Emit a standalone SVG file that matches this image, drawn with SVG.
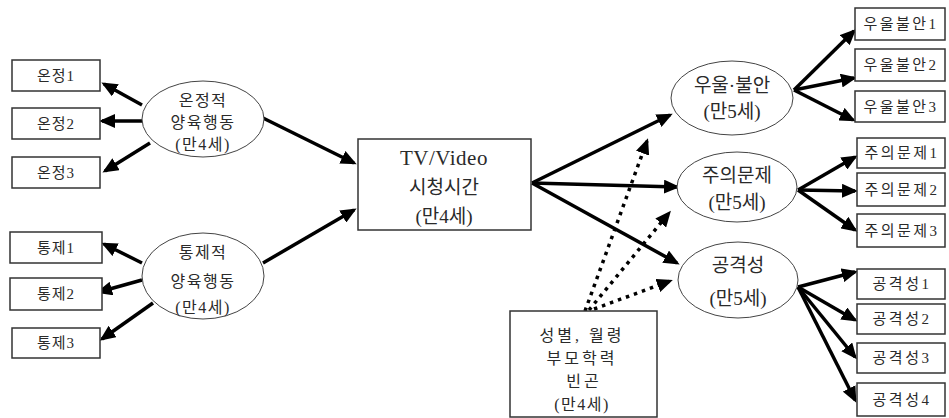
<svg xmlns="http://www.w3.org/2000/svg" width="949" height="418" viewBox="0 0 949 418">
<defs>
<marker id="ah" markerUnits="userSpaceOnUse" markerWidth="16" markerHeight="14" viewBox="0 0 16 14" refX="13" refY="7" orient="auto">
<path d="M0,0 L16,7 L0,14 z" fill="#000"/>
</marker>
</defs>
<style>
.box{fill:#fff;stroke:#333;stroke-width:1.5}
.ell{fill:#fff;stroke:#444;stroke-width:1}
.t{font-family:"Liberation Serif","Noto Sans CJK KR",serif;fill:#2a2a2a;text-anchor:middle;dominant-baseline:central}
.s{font-size:15px;letter-spacing:1px}
.r{font-size:15px;letter-spacing:2.5px}
.m{font-size:16px;letter-spacing:1.5px}
.c{font-size:16px;letter-spacing:3px}
.l{font-size:19px}
.w{font-size:21px;letter-spacing:0.5px}
.a{stroke:#000;stroke-width:3.5;fill:none;marker-end:url(#ah)}
.d{stroke:#000;stroke-width:3.5;fill:none;stroke-dasharray:3.5 5;marker-end:url(#ah)}
</style>
<rect width="949" height="418" fill="#fff"/>
<g id="connectors">
<line class="a" x1="142" y1="105" x2="104" y2="84"/>
<line class="a" x1="142" y1="121" x2="102" y2="121"/>
<line class="a" x1="150" y1="143" x2="105" y2="171"/>
<line class="a" x1="142" y1="263" x2="104" y2="244"/>
<line class="a" x1="142" y1="280" x2="99" y2="292"/>
<line class="a" x1="153" y1="303" x2="102" y2="339"/>
<line class="a" x1="263" y1="118" x2="354" y2="163"/>
<line class="a" x1="263" y1="263" x2="354" y2="210"/>
<line class="a" x1="532" y1="183" x2="670" y2="115"/>
<line class="a" x1="532" y1="183" x2="677" y2="187"/>
<line class="a" x1="532" y1="183" x2="677" y2="263"/>
<line class="d" x1="585" y1="311" x2="647" y2="141"/>
<line class="d" x1="589" y1="310" x2="669" y2="213"/>
<line class="d" x1="594" y1="309" x2="670" y2="281"/>
<line class="a" x1="794" y1="90" x2="854" y2="31"/>
<line class="a" x1="794" y1="90" x2="854" y2="78"/>
<line class="a" x1="794" y1="90" x2="853" y2="120"/>
<line class="a" x1="798" y1="190" x2="855" y2="157"/>
<line class="a" x1="798" y1="190" x2="855" y2="191"/>
<line class="a" x1="798" y1="190" x2="855" y2="230"/>
<line class="a" x1="798" y1="287" x2="855" y2="272"/>
<line class="a" x1="798" y1="287" x2="855" y2="320"/>
<line class="a" x1="798" y1="287" x2="855" y2="357"/>
<line class="a" x1="798" y1="287" x2="855" y2="400"/>
</g>
<g id="n-onjeong1"><rect class="box" x="12" y="60" width="88" height="31"/><text class="t s" x="56" y="75.5">온정1</text></g>
<g id="n-onjeong2"><rect class="box" x="12" y="108" width="88" height="31"/><text class="t s" x="56" y="123.5">온정2</text></g>
<g id="n-onjeong3"><rect class="box" x="12" y="157" width="88" height="31"/><text class="t s" x="56" y="172.5">온정3</text></g>
<g id="n-tongje1"><rect class="box" x="10" y="232" width="92" height="31"/><text class="t s" x="56" y="247.5">통제1</text></g>
<g id="n-tongje2"><rect class="box" x="10" y="278" width="92" height="32"/><text class="t s" x="56" y="294">통제2</text></g>
<g id="n-tongje3"><rect class="box" x="12" y="328" width="88" height="30"/><text class="t s" x="56" y="343">통제3</text></g>
<g id="n-warm"><ellipse class="ell" cx="203" cy="119" rx="61" ry="38"/>
<text class="t m" x="203" y="100">온정적</text><text class="t m" x="203" y="122">양육행동</text><text class="t m" x="203" y="144">(만4세)</text></g>
<g id="n-control"><ellipse class="ell" cx="203" cy="276" rx="61" ry="43"/>
<text class="t m" x="203" y="252">통제적</text><text class="t m" x="203" y="281">양육행동</text><text class="t m" x="203" y="307">(만4세)</text></g>
<g id="n-tv"><rect class="box" x="358" y="139" width="173" height="91"/>
<text class="t w" x="444" y="158">TV/Video</text><text class="t l" x="444" y="187">시청시간</text><text class="t l" x="444" y="216">(만4세)</text></g>
<g id="n-cov"><rect class="box" x="510" y="311" width="147" height="106"/>
<text class="t c" x="582" y="335">성별, 월령</text><text class="t c" x="582" y="358">부모학력</text><text class="t c" x="584" y="381">빈곤</text><text class="t m" x="582" y="404">(만4세)</text></g>
<g id="n-dep"><ellipse class="ell" cx="732" cy="98" rx="61" ry="37"/>
<text class="t l" x="732" y="85">우울·불안</text><text class="t l" x="732" y="111">(만5세)</text></g>
<g id="n-att"><ellipse class="ell" cx="737" cy="187" rx="60" ry="35"/>
<text class="t l" x="737" y="175">주의문제</text><text class="t l" x="737" y="202">(만5세)</text></g>
<g id="n-agg"><ellipse class="ell" cx="738" cy="280" rx="60" ry="38"/>
<text class="t l" x="738" y="265">공격성</text><text class="t l" x="738" y="298">(만5세)</text></g>
<g id="n-dep1"><rect class="box" x="855" y="8" width="90" height="32"/><text class="t r" x="901" y="24">우울불안1</text></g>
<g id="n-dep2"><rect class="box" x="855" y="49" width="90" height="32"/><text class="t r" x="901" y="65">우울불안2</text></g>
<g id="n-dep3"><rect class="box" x="855" y="91" width="90" height="31"/><text class="t r" x="901" y="106.5">우울불안3</text></g>
<g id="n-att1"><rect class="box" x="857" y="138" width="88" height="30"/><text class="t r" x="902" y="153">주의문제1</text></g>
<g id="n-att2"><rect class="box" x="857" y="173" width="88" height="33"/><text class="t r" x="902" y="189.5">주의문제2</text></g>
<g id="n-att3"><rect class="box" x="857" y="214" width="88" height="33"/><text class="t r" x="902" y="230.5">주의문제3</text></g>
<g id="n-agg1"><rect class="box" x="857" y="269" width="88" height="30"/><text class="t r" x="902" y="284">공격성1</text></g>
<g id="n-agg2"><rect class="box" x="857" y="304" width="88" height="30"/><text class="t r" x="902" y="319">공격성2</text></g>
<g id="n-agg3"><rect class="box" x="857" y="343" width="88" height="30"/><text class="t r" x="902" y="358">공격성3</text></g>
<g id="n-agg4"><rect class="box" x="857" y="383" width="88" height="33"/><text class="t r" x="902" y="399.5">공격성4</text></g>
</svg>
